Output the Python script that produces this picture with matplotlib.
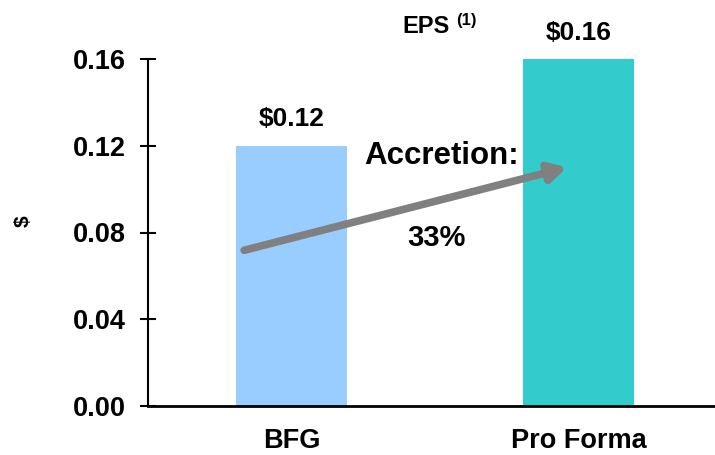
import matplotlib
matplotlib.use('Agg')
import matplotlib.pyplot as plt

# EPS comparison: standalone vs. pro forma
categories = ['BFG', 'Pro Forma']
eps = [0.12, 0.16]
bar_labels = ['$0.12', '$0.16']
accretion_pct = 33
yticks = [0.00, 0.04, 0.08, 0.12, 0.16]

colors = ['#99CCFF', '#33CCCC']

plt.rcParams['font.family'] = ['Liberation Sans', 'DejaVu Sans']
plt.rcParams['font.weight'] = 'bold'

fig = plt.figure(figsize=(7.15, 4.55), dpi=100)
ax = fig.add_axes([148 / 715, 49 / 455, 574 / 715, 347 / 455])

x = range(len(categories))
ax.bar(x, eps, width=0.39, color=colors, zorder=2)

for xi, v, lab in zip(x, eps, bar_labels):
    ax.annotate(lab, (xi, v), xytext=(0, 14), textcoords='offset points',
                ha='center', va='baseline', fontsize=19, fontweight='bold')

# growth arrow from BFG to Pro Forma
ax.annotate('', xy=(0.96, 0.110), xytext=(-0.165, 0.0718),
            arrowprops=dict(arrowstyle='-|>,head_length=1.0,head_width=0.55',
                            color='#808080', lw=5.5, shrinkA=0, shrinkB=0),
            zorder=3)
ax.text(0.253, 0.1155, 'Accretion:', ha='left', va='center',
        fontsize=22.5, fontweight='bold', zorder=4)
ax.text(0.505, 0.0775, f'{accretion_pct}%', ha='center', va='center',
        fontsize=21, fontweight='bold', zorder=4)

ax.set_xlim(-0.5, 1.5)
ax.set_ylim(0, 0.16)
ax.set_yticks(yticks)
ax.set_yticklabels([f'{t:.2f}' for t in yticks], fontsize=19.5, fontweight='bold')
ax.set_xticks(list(x))
ax.set_xticklabels(categories, fontsize=19.5, fontweight='bold')
ax.tick_params(axis='x', length=0, pad=16)
ax.tick_params(axis='y', direction='inout', length=12, width=1.5, pad=10)

for side in ['top', 'right']:
    ax.spines[side].set_visible(False)
ax.spines['left'].set_linewidth(1.5)
ax.spines['bottom'].set_linewidth(2)
ax.spines['bottom'].set_zorder(5)

# y-axis unit
fig.text(23 / 715, 1 - 221 / 455, '$', fontsize=15, fontweight='bold',
         rotation=90, ha='center', va='center')

fig.text(402 / 715, 1 - 33 / 455, 'EPS', fontsize=17, fontweight='bold',
         ha='left', va='baseline')
fig.text(456 / 715, 1 - 25 / 455, '(1)', fontsize=12, fontweight='bold',
         ha='left', va='baseline')

fig.savefig('out.png', dpi=100)
